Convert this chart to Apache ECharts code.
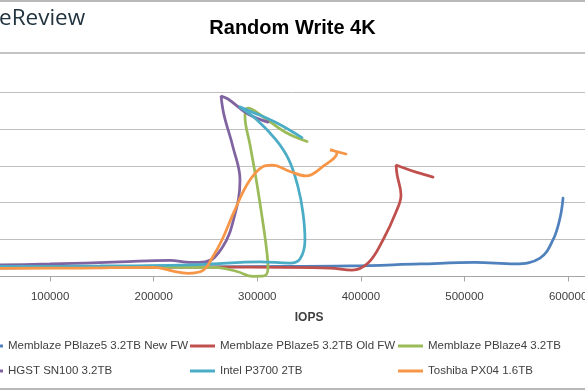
<!DOCTYPE html>
<html>
<head>
<meta charset="utf-8">
<script src="https://cdn.jsdelivr.net/npm/echarts@6/dist/echarts.min.js"></script>
<style>
html,body{margin:0;padding:0;background:#fff;}
#chart{width:585px;height:390px;}
</style>
</head>
<body>
<div id="chart"></div>
<script>
// Series names
const seriesNames = [
  'Memblaze PBlaze5 3.2TB New FW',
  'Memblaze PBlaze5 3.2TB Old FW',
  'Memblaze PBlaze4 3.2TB',
  'HGST SN100 3.2TB',
  'Intel P3700 2TB',
  'Toshiba PX04 1.6TB'
];
// [IOPS, latency] points, in measurement order
const pblaze5New = [[22700,0.46],[109600,0.49],[196400,0.51],[293000,0.54],[389500,0.57],[457000,0.68],[510100,0.76],[548700,0.68],[572900,1.0],[585400,1.98],[592200,3.17],[595100,4.25]];
const pblaze5Old = [[22700,0.46],[148200,0.49],[293000,0.51],[370200,0.46],[391400,0.35],[406900,0.73],[421300,1.98],[433900,3.5],[438700,4.42],[435000,5.5],[433900,6.04],[443000,5.85],[453200,5.66],[469600,5.39]];
const pblaze4 = [[22700,0.49],[196400,0.51],[259200,0.49],[280400,0.27],[295800,0.01],[306500,0.03],[310300,0.46],[308400,1.71],[303600,3.6],[298700,5.34],[293000,7.13],[288100,8.7],[291000,9.13],[304500,8.7],[326700,7.83],[348000,7.32]];
const hgstSN100 = [[22700,0.6],[99900,0.68],[167500,0.79],[215700,0.87],[235000,0.76],[249500,0.79],[265900,1.54],[277500,3.17],[283300,5.23],[276500,7.02],[267900,8.75],[265000,9.78],[271700,9.62],[291000,8.81],[310300,8.37]];
const intelP3700 = [[22700,0.54],[148200,0.57],[244700,0.65],[302600,0.79],[331600,0.73],[341200,0.95],[346000,1.98],[344100,3.44],[339300,4.85],[330600,6.31],[318100,7.4],[298700,8.54],[282300,9.21],[294900,8.92],[317100,8.37],[343100,7.53]];
const toshibaPX04 = [[22700,0.43],[128900,0.46],[201300,0.5],[217700,0.3],[233100,0.17],[247600,0.33],[256300,1.0],[265900,1.98],[277500,3.5],[291000,5.07],[304500,5.93],[314200,6.04],[331600,5.69],[347000,5.45],[362500,5.93],[376900,6.69],[370200,6.86],[385600,6.64]];

const seriesData = [pblaze5New, pblaze5Old, pblaze4, hgstSN100, intelP3700, toshibaPX04];
const colors = ['#4F81BD','#C0504D','#9BBB59','#8064A2','#4BACC6','#F79646'];

const legendPos = [
  {left:-22, top:340}, {left:190, top:340}, {left:398, top:340},
  {left:-22, top:365}, {left:190, top:365}, {left:398, top:365}
];

const chart = echarts.init(document.getElementById('chart'), null, {renderer:'canvas'});
const FONT = 'Liberation Sans';

chart.setOption({
  animation: false,
  backgroundColor: '#ffffff',
  color: colors,
  title: {
    text: 'Random Write 4K',
    left: 'center',
    top: 13,
    textStyle: {fontFamily: FONT, fontWeight: 'bold', fontSize: 20, color: '#000'}
  },
  graphic: [
    {type:'line', shape:{x1:0,y1:1,x2:585,y2:1}, style:{stroke:'#a0a0a0', lineWidth:1.5}},
    {type:'line', shape:{x1:0,y1:53,x2:585,y2:53}, style:{stroke:'#c4c4c4', lineWidth:2}},
    {type:'line', shape:{x1:0,y1:389,x2:585,y2:389}, style:{stroke:'#a0a0a0', lineWidth:1.5}},
    {type:'text', left:-1, top:7, style:{text:'eReview', fontFamily:'Open Sans', fontSize:22.5, fill:'#22343f'}}
  ],
  legend: seriesNames.map((n,i)=>({
    data:[n], left:legendPos[i].left, top:legendPos[i].top,
    icon:'rect', itemWidth:25, itemHeight:3, padding:0,
    textStyle:{fontFamily:FONT, fontSize:11.5, color:'#404040'}
  })),
  grid: {left:-53.5, top:92, width:725.2, height:184.5, containLabel:false, outerBoundsMode:'none'},
  xAxis: {
    type:'value', min:0, max:700000, interval:100000,
    name:'IOPS', nameLocation:'middle', nameGap:35,
    nameTextStyle:{fontFamily:FONT, fontWeight:'bold', fontSize:12, color:'#404040'},
    axisLine:{lineStyle:{color:'#a6a6a6', width:1}},
    axisTick:{show:true, length:5, lineStyle:{color:'#a6a6a6'}},
    axisLabel:{fontFamily:FONT, fontSize:11.5, color:'#404040', margin:14, formatter:(v)=>String(v)},
    splitLine:{show:false}
  },
  yAxis: {
    type:'value', min:0, max:10, interval:2,
    axisLine:{show:false}, axisTick:{show:false}, axisLabel:{show:false},
    splitLine:{lineStyle:{color:'#bfbfbf', width:1}}
  },
  series: seriesData.map((d,i)=>({
    name: seriesNames[i], type:'line', data:d, smooth:0.4,
    showSymbol:false, symbol:'none',
    lineStyle:{width:2.75, color:colors[i], cap:'round'},
    itemStyle:{color:colors[i]}
  }))
});
</script>
</body>
</html>
